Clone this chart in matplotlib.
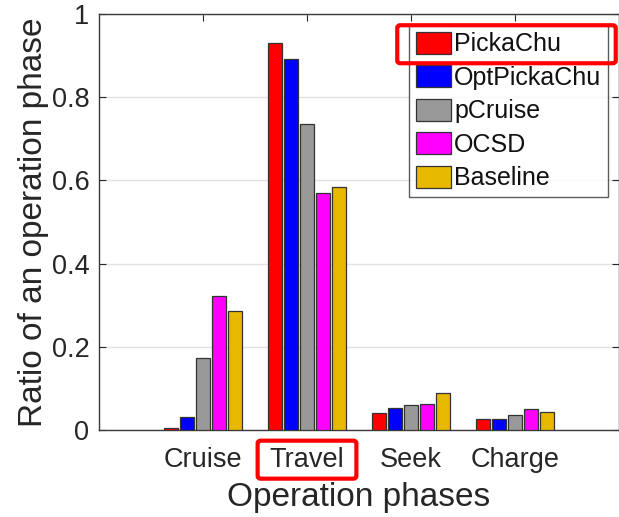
import numpy as np
import matplotlib
matplotlib.use('Agg')
from matplotlib import pyplot as plt
from matplotlib.patches import FancyBboxPatch

plt.rcParams['font.family'] = ['Liberation Sans', 'DejaVu Sans']

phases = ['Cruise', 'Travel', 'Seek', 'Charge']
methods = ['PickaChu', 'OptPickaChu', 'pCruise', 'OCSD', 'Baseline']
colors = ['#ff0000', '#0000ff', '#999999', '#ff00ff', '#e6b800']

pickachu = [0.005, 0.930, 0.042, 0.026]
opt_pickachu = [0.031, 0.892, 0.053, 0.027]
pcruise = [0.172, 0.735, 0.060, 0.035]
ocsd = [0.322, 0.570, 0.062, 0.050]
baseline = [0.286, 0.584, 0.088, 0.043]

series = [pickachu, opt_pickachu, pcruise, ocsd, baseline]

txt = '#262626'

fig = plt.figure(figsize=(6.19, 5.17), dpi=100)
ax = fig.add_axes([99 / 619, 87 / 517, 520 / 619, 416 / 517])

x = np.arange(1, len(phases) + 1)
step = 0.154
width = 0.132
for i, vals in enumerate(series):
    ax.bar(x + (i - 2) * step, vals, width, color=colors[i],
           edgecolor='#333333', linewidth=0.9, label=methods[i], zorder=3)

ax.set_xlim(0, 5)
ax.set_ylim(0, 1)
ax.set_xticks(x)
ax.set_xticklabels(phases)
ax.set_yticks([0, 0.2, 0.4, 0.6, 0.8, 1])
ax.set_yticklabels(['0', '0.2', '0.4', '0.6', '0.8', '1'])
ax.tick_params(direction='in', top=True, right=True, length=5, width=0.8,
               labelsize=19.5, colors=txt)
ax.tick_params(axis='x', pad=12)
ax.tick_params(axis='y', pad=7)
ax.yaxis.grid(True, color='#e3e3e3', linewidth=1, zorder=0)
ax.set_axisbelow(True)
for s in ax.spines.values():
    s.set_color('#3a3a3a')
    s.set_linewidth(1)

ax.set_xlabel('Operation phases', fontsize=24, color=txt, labelpad=7)
ax.set_ylabel('Ratio of an operation phase', fontsize=24, color=txt, labelpad=2)

leg = ax.legend(loc='upper right', fontsize=18, frameon=True, fancybox=False,
                edgecolor='#333333', handlelength=1.4, handleheight=1.0,
                handletextpad=0.15, labelspacing=0.35, borderpad=0.25,
                borderaxespad=0.45)
leg.get_frame().set_linewidth(1)
for t in leg.get_texts():
    t.set_color('#111111')

# red highlight boxes round the "PickaChu" legend entry and the "Travel" label
fig.canvas.draw()
r = fig.canvas.get_renderer()
inv = fig.transFigure.inverted()

lb = leg.get_frame().get_window_extent(r)
tb = leg.get_texts()[0].get_window_extent(r)
x0, y0 = inv.transform((lb.x0 - 12, tb.y0 - 7))
x1, y1 = inv.transform((lb.x1 + 8, tb.y1 + 7))
fig.patches.append(FancyBboxPatch((x0, y0), x1 - x0, y1 - y0,
                                  boxstyle='round,pad=0,rounding_size=0.005',
                                  transform=fig.transFigure, fill=False,
                                  edgecolor='#ff0000', linewidth=3))

lab = ax.get_xticklabels()[1].get_window_extent(r)
x0, y0 = inv.transform((lab.x0 - 12, lab.y0 - 6))
x1, y1 = inv.transform((lab.x1 + 12, lab.y1 + 6))
fig.patches.append(FancyBboxPatch((x0, y0), x1 - x0, y1 - y0,
                                  boxstyle='round,pad=0,rounding_size=0.005',
                                  transform=fig.transFigure, fill=False,
                                  edgecolor='#ff0000', linewidth=3))

fig.savefig('out.png', dpi=100)
